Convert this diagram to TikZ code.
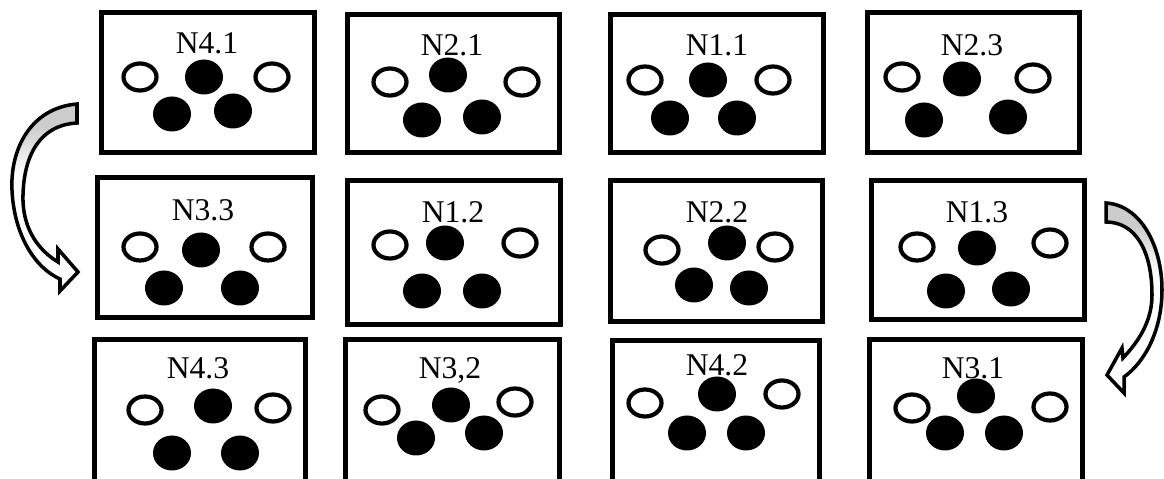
\documentclass[tikz,border=0pt]{standalone}
\usepackage{fontspec}
\setmainfont{Liberation Serif}
\pgfdeclareverticalshading{curlfade}{100bp}{color(0bp)=(white); color(25bp)=(white); color(56bp)=(white); color(69bp)=(gray!40); color(100bp)=(gray!40)}

\begin{document}
\begin{tikzpicture}[x=0.02cm, y=-0.02cm,
    frame/.style={draw, line width=2.8pt},
    hole/.style={draw, line width=2.4pt, x radius=16.5, y radius=13.5},
    ball/.style={fill=black, x radius=19, y radius=17.5},
    lbl/.style={font=\fontsize{18}{21}\selectfont, inner sep=0pt, text depth=0pt},
    curlarrow/.style={draw, line width=2pt, line join=miter, shading=curlfade}]
\useasboundingbox (0,0) rectangle (1164,479);

% Row 1 (top)
\draw[frame] (101.5,12.5) rectangle (314.5,152.5); \node[lbl] (n41) at (207,43) {N4.1};
\draw[hole] (140,77) ellipse[] (272,77) ellipse[];
\fill[ball] (204,77) ellipse[] (172,114) ellipse[] (233,111) ellipse[];
\draw[frame] (347.5,14.5) rectangle (559.5,152.5); \node[lbl] (n21) at (452,45) {N2.1};
\draw[hole] (390,82) ellipse[] (522,82) ellipse[];
\fill[ball] (448,75) ellipse[] (422,120) ellipse[] (482,117) ellipse[];
\draw[frame] (610.5,14.5) rectangle (823.5,152.5); \node[lbl] (n11) at (717,45) {N1.1};
\draw[hole] (645,80) ellipse[] (773,80) ellipse[];
\fill[ball] (708,80) ellipse[] (670,118) ellipse[] (737,118) ellipse[];
\draw[frame] (867.5,12.5) rectangle (1079.5,152.5); \node[lbl] (n23) at (972,45) {N2.3};
\draw[hole] (902,77) ellipse[] (1033,78) ellipse[];
\fill[ball] (962,79) ellipse[] (924,120) ellipse[] (1008,117) ellipse[];

% Row 2
\draw[frame] (97.5,177.5) rectangle (312.5,317.5); \node[lbl] (n33) at (203,210) {N3.3};
\draw[hole] (140,247) ellipse[] (268,247) ellipse[];
\fill[ball] (201,250) ellipse[] (164,288) ellipse[] (240,288) ellipse[];
\draw[frame] (347.5,180.5) rectangle (560.5,324.5); \node[lbl] (n12) at (453,212) {N1.2};
\draw[hole] (390,245) ellipse[] (520,243) ellipse[];
\fill[ball] (445,243) ellipse[] (422,291) ellipse[] (482,291) ellipse[];
\draw[frame] (610.5,180.5) rectangle (822.5,321.5); \node[lbl] (n22) at (717,212) {N2.2};
\draw[hole] (662,250) ellipse[] (775,247) ellipse[];
\fill[ball] (727,243) ellipse[] (694,285) ellipse[] (749,288) ellipse[];
\draw[frame] (871.5,180.5) rectangle (1084.5,319.5); \node[lbl] (n13) at (977,212) {N1.3};
\draw[hole] (917,247) ellipse[] (1050,243) ellipse[];
\fill[ball] (977,248) ellipse[] (946,291) ellipse[] (1011,289) ellipse[];

% Row 3 (bottom, cut by the page edge)
\draw[frame] (94.5,339.5) rectangle (305.5,490); \node[lbl] (n43) at (198,368) {N4.3};
\draw[hole] (145,410) ellipse[] (273,408) ellipse[];
\fill[ball] (213,406) ellipse[] (172,453) ellipse[] (240,453) ellipse[];
\draw[frame] (345.5,339.5) rectangle (559.5,490); \node[lbl] (n32) at (450,368) {N3,2};
\draw[hole] (382,410) ellipse[] (515,402) ellipse[];
\fill[ball] (451,405) ellipse[] (416,438) ellipse[] (484,433) ellipse[];
\draw[frame] (612.5,340.5) rectangle (819.5,490); \node[lbl] (n42) at (717,365) {N4.2};
\draw[hole] (645,403) ellipse[] (782,394) ellipse[];
\fill[ball] (717,394) ellipse[] (687,433) ellipse[] (746,433) ellipse[];
\draw[frame] (869.5,339.5) rectangle (1082.5,490); \node[lbl] (n31) at (973,368) {N3.1};
\draw[hole] (912,408) ellipse[] (1050,407) ellipse[];
\fill[ball] (976,396) ellipse[] (945,433) ellipse[] (1004,433) ellipse[];

% Curved block arrows
\draw[curlarrow] (77,104) .. controls (30,108) and (10,150) .. (12,190)
    .. controls (14,235) and (35,268) .. (60,279) -- (60,291) -- (78,272)
    -- (58,249) -- (58,262) .. controls (38,250) and (22,228) .. (23,195)
    .. controls (24,155) and (40,125) .. (77,123) -- cycle;
\draw[curlarrow] (1106,203) .. controls (1140,205) and (1162,245) .. (1162,290)
    .. controls (1162,330) and (1145,362) .. (1124,377) -- (1124,393) -- (1107,375)
    -- (1122,348) -- (1123,358) .. controls (1140,340) and (1152,320) .. (1152,295)
    .. controls (1152,250) and (1135,222) .. (1106,222) -- cycle;

\end{tikzpicture}
\end{document}
